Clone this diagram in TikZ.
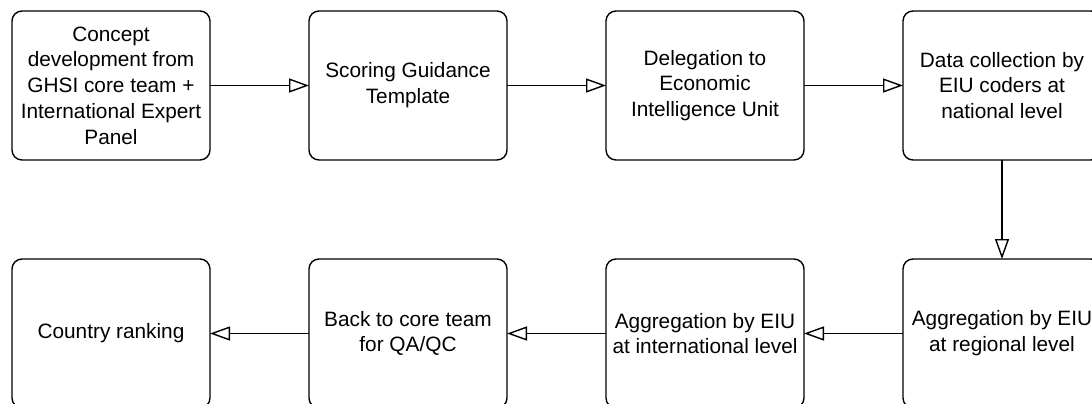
\documentclass[tikz,border=0pt]{standalone}
\usepackage{fontspec}
\setmainfont{Liberation Sans}
\usetikzlibrary{positioning}
\usetikzlibrary{arrows.meta}

\tikzset{
  stage/.style={draw, rounded corners=10pt, line width=1.4pt, minimum width=198pt,
    minimum height=149pt, outer sep=0pt, align=center,
    font=\fontsize{20.8}{25.8}\selectfont},
  flow/.style={line width=1.4pt, -{Triangle[open, length=20pt, width=14pt]}}
}

\begin{document}
\begin{tikzpicture}[node distance=99pt and 99pt]
\useasboundingbox (0,0) rectangle (1092pt,-404pt);

\node[stage] (s1) at (111pt,-85.5pt) {Concept\\development from\\GHSI core team +\\International Expert\\Panel};
\node[stage, right=of s1] (s2) {Scoring Guidance\\Template};
\node[stage, right=of s2] (s3) {Delegation to\\Economic\\Intelligence Unit};
\node[stage, right=of s3] (s4) {Data collection by\\EIU coders at\\national level};
\node[stage, below=of s4] (s5) {Aggregation by EIU\\at regional level};
\node[stage, left=of s5] (s6) {Aggregation by EIU\\at international level};
\node[stage, left=of s6] (s7) {Back to core team\\for QA/QC};
\node[stage, left=of s7] (s8) {Country ranking};

\draw[flow] (s1) -- (s2);
\draw[flow] (s2) -- (s3);
\draw[flow] (s3) -- (s4);
\draw[flow] (s4) -- (s5);
\draw[flow] (s5) -- (s6);
\draw[flow] (s6) -- (s7);
\draw[flow] (s7) -- (s8);
\end{tikzpicture}
\end{document}
